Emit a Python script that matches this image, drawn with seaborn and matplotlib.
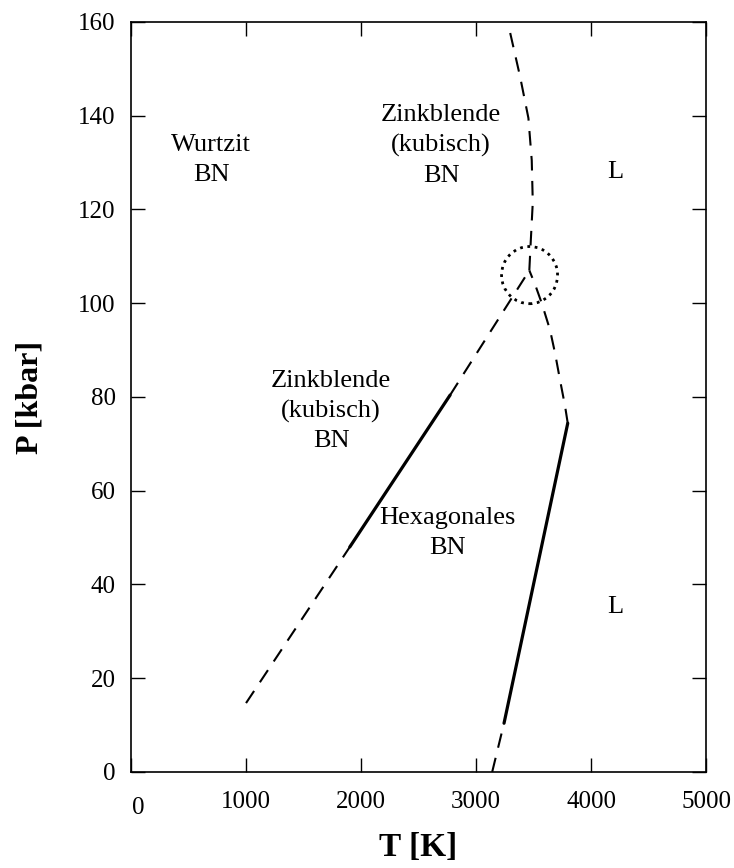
import matplotlib
matplotlib.use('Agg')
import matplotlib.pyplot as plt
import matplotlib.transforms as mtransforms
from matplotlib.patches import Ellipse
import seaborn as sns

# Phase boundaries of BN, (T [K], P [kbar])
# zincblende / hexagonal boundary
zb_low_T = [1000, 1902]
zb_low_P = [14.7, 48.0]
zb_mid_T = [1902, 2774]
zb_mid_P = [48.0, 80.4]
zb_high_T = [2774, 3463]
zb_high_P = [80.4, 107.0]

# melting line of hexagonal BN
melt_low_T = [3140, 3243]
melt_low_P = [0.0, 10.4]
melt_mid_T = [3243, 3797]
melt_mid_P = [10.4, 74.4]
melt_high_T = [3797, 3774, 3730, 3687, 3643, 3571, 3513, 3463]
melt_high_P = [74.4, 78.0, 83.6, 89.3, 94.3, 100.0, 104.0, 107.0]

# melting line of cubic BN
cub_T = [3463, 3475, 3493, 3484, 3455, 3383, 3287]
cub_P = [107.0, 113.0, 121.5, 130.5, 139.5, 148.3, 158.7]

# triple point marker
triple_T, triple_P = 3465, 106

labels = ['Wurtzit\nBN', 'Zinkblende\n(kubisch)\nBN', 'L',
          'Zinkblende\n(kubisch)\nBN', 'Hexagonales\nBN', 'L']
label_T = [696, 2696, 4209, 1739, 2748, 4209]
label_P = [130.6, 133.6, 128, 77.0, 51.0, 35.2]

x_ticks = [0, 1000, 2000, 3000, 4000, 5000]
y_ticks = [0, 20, 40, 60, 80, 100, 120, 140, 160]

sns.set_theme(style='ticks')
plt.rcParams['font.family'] = ['Liberation Serif', 'DejaVu Serif']
plt.rcParams['text.color'] = 'black'
plt.rcParams['axes.labelcolor'] = 'black'

fig = plt.figure(figsize=(7.34, 8.68), dpi=100)
ax = fig.add_axes([0.1785, 0.1106, 0.7835, 0.8641])

dash = (0, (7, 5))
segments = [
    (zb_low_T, zb_low_P, dash, 1.5),
    (zb_mid_T, zb_mid_P, '-', 2.3),
    (zb_high_T, zb_high_P, dash, 1.5),
    (melt_low_T, melt_low_P, dash, 1.5),
    (melt_mid_T, melt_mid_P, '-', 2.3),
    (melt_high_T, melt_high_P, dash, 1.5),
    (cub_T, cub_P, dash, 1.5),
]
for xs, ys, ls, lw in segments:
    sns.lineplot(x=xs, y=ys, ax=ax, color='black', sort=False,
                 estimator=None, linestyle=ls, linewidth=lw)

ax.add_patch(Ellipse((triple_T, triple_P), width=487, height=12.2,
                     fill=False, edgecolor='black', linestyle=':',
                     linewidth=2.0))

for txt, t, p in zip(labels, label_T, label_P):
    ax.text(t, p, txt, ha='center', va='center', multialignment='center',
            fontsize=19, linespacing=1.45, color='black')

ax.set_xlim(0, 5000)
ax.set_ylim(0, 160)
ax.set_xticks(x_ticks)
ax.set_yticks(y_ticks)
ax.tick_params(direction='in', length=10, width=1, labelsize=18,
               top=True, right=True, colors='black')
ax.tick_params(axis='x', pad=14)
ax.tick_params(axis='y', pad=11)
for s in ax.spines.values():
    s.set_linewidth(1.2)
    s.set_color('black')

# the "0" on the T axis sits a little to the right and lower
zero = ax.get_xticklabels()[0]
zero.set_transform(zero.get_transform() +
                   mtransforms.ScaledTranslation(0.07, -0.06, fig.dpi_scale_trans))

ax.set_xlabel('T [K]', fontsize=24, fontweight='bold', labelpad=9)
ax.set_ylabel('P [kbar]', fontsize=23, fontweight='bold', labelpad=24)

fig.savefig('out.png', dpi=100)
